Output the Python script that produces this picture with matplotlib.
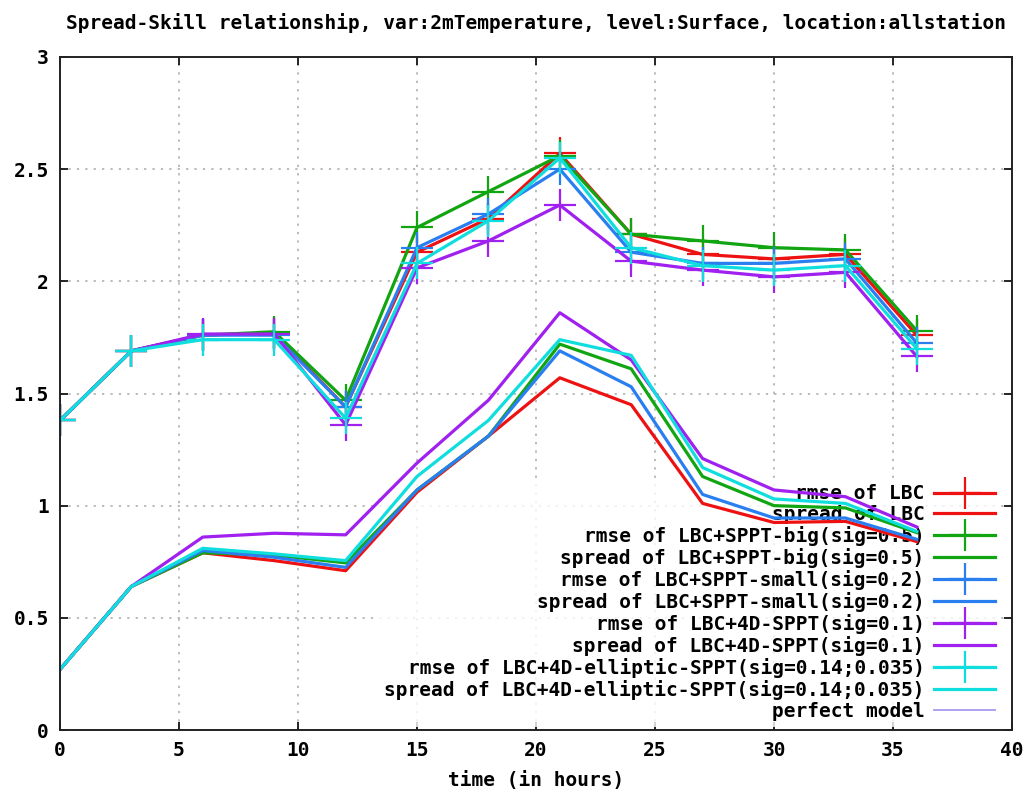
import matplotlib
matplotlib.use("Agg")
import matplotlib.pyplot as plt

# ---- data ----
hours = [0, 3, 6, 9, 12, 15, 18, 21, 24, 27, 30, 33, 36]

rmse_lbc = [1.38, 1.69, 1.76, 1.77, 1.44, 2.13, 2.28, 2.57, 2.21, 2.12, 2.10, 2.12, 1.76]
spread_lbc = [0.27, 0.64, 0.79, 0.755, 0.71, 1.06, 1.31, 1.57, 1.45, 1.01, 0.925, 0.93, 0.84]
rmse_big = [1.38, 1.69, 1.76, 1.775, 1.47, 2.24, 2.40, 2.56, 2.21, 2.18, 2.15, 2.14, 1.78]
spread_big = [0.27, 0.64, 0.79, 0.78, 0.745, 1.07, 1.31, 1.72, 1.61, 1.13, 1.00, 0.99, 0.88]
rmse_small = [1.38, 1.69, 1.76, 1.76, 1.44, 2.15, 2.30, 2.50, 2.13, 2.08, 2.08, 2.10, 1.725]
spread_small = [0.27, 0.64, 0.80, 0.77, 0.725, 1.07, 1.31, 1.69, 1.53, 1.05, 0.945, 0.945, 0.85]
rmse_4d = [1.38, 1.69, 1.765, 1.765, 1.36, 2.06, 2.18, 2.34, 2.09, 2.05, 2.02, 2.04, 1.665]
spread_4d = [0.27, 0.64, 0.86, 0.877, 0.87, 1.19, 1.47, 1.86, 1.65, 1.21, 1.07, 1.04, 0.905]
rmse_ell = [1.38, 1.69, 1.74, 1.74, 1.39, 2.08, 2.27, 2.55, 2.15, 2.07, 2.05, 2.07, 1.70]
spread_ell = [0.27, 0.64, 0.81, 0.785, 0.755, 1.13, 1.38, 1.74, 1.67, 1.17, 1.03, 1.01, 0.885]

labels = [
    "rmse of LBC", "spread of LBC",
    "rmse of LBC+SPPT-big(sig=0.5)", "spread of LBC+SPPT-big(sig=0.5)",
    "rmse of LBC+SPPT-small(sig=0.2)", "spread of LBC+SPPT-small(sig=0.2)",
    "rmse of LBC+4D-SPPT(sig=0.1)", "spread of LBC+4D-SPPT(sig=0.1)",
    "rmse of LBC+4D-elliptic-SPPT(sig=0.14;0.035)", "spread of LBC+4D-elliptic-SPPT(sig=0.14;0.035)",
]
perfect_label = "perfect model"
series = [rmse_lbc, spread_lbc, rmse_big, spread_big, rmse_small, spread_small,
          rmse_4d, spread_4d, rmse_ell, spread_ell]
colors = ["#ee1111", "#ee1111", "#11a511", "#11a511", "#2a7ff0", "#2a7ff0",
          "#a020f0", "#a020f0", "#10dede", "#10dede"]
perfect_color = "#a898f0"

xticks = [0, 5, 10, 15, 20, 25, 30, 35, 40]
yticks = [0, 0.5, 1, 1.5, 2, 2.5, 3]
ytick_labels = ["0", "0.5", "1", "1.5", "2", "2.5", "3"]

title = "Spread-Skill relationship, var:2mTemperature, level:Surface, location:allstation"
xlabel = "time (in hours)"

# ---- plot ----
W, H = 1034, 793
fig = plt.figure(figsize=(W / 100, H / 100), dpi=100)
font = dict(family="DejaVu Sans Mono", weight="bold", size=14)
ax = fig.add_axes([60 / W, 1 - 730 / H, (1012 - 60) / W, (730 - 57) / H])

for i, (vals, c, lab) in enumerate(zip(series, colors, labels)):
    if i % 2 == 0:
        ax.plot(hours, vals, color=c, lw=2.3, marker="+", ms=23, mew=1.6,
                label=lab, zorder=2 + i * 0.01)
    else:
        ax.plot(hours, vals, color=c, lw=2.3, label=lab, zorder=2 + i * 0.01)
ax.plot([], [], color=perfect_color, lw=1.3, label=perfect_label)

ax.set_xlim(0, 40)
ax.set_ylim(0, 3)
ax.set_xticks(xticks)
ax.set_yticks(yticks)
ax.set_xticklabels([str(t) for t in xticks], **font)
ax.set_yticklabels(ytick_labels, **font)
ax.tick_params(direction="in", length=6, width=1.2, top=True, right=True, pad=8)
ax.set_axisbelow(True)
ax.grid(True, color="#aaaaaa", linestyle=(0, (1.5, 4)), linewidth=1.1)
for s in ax.spines.values():
    s.set_linewidth(1.4)
    s.set_color("#222222")

ax.set_title(title, pad=20, **font)
ax.set_xlabel(xlabel, labelpad=8, **font)

leg = ax.legend(loc="lower right", bbox_to_anchor=(0.988, 0.005), markerfirst=False,
                prop=dict(family="DejaVu Sans Mono", weight="bold", size=14),
                handlelength=3.1, handletextpad=0.5, labelspacing=0.1, numpoints=1,
                frameon=True, fancybox=False, borderpad=0.3, borderaxespad=0)
leg.get_frame().set_facecolor("white")
leg.get_frame().set_edgecolor("none")
leg.set_zorder(1.5)

fig.savefig("out.png", dpi=100)
